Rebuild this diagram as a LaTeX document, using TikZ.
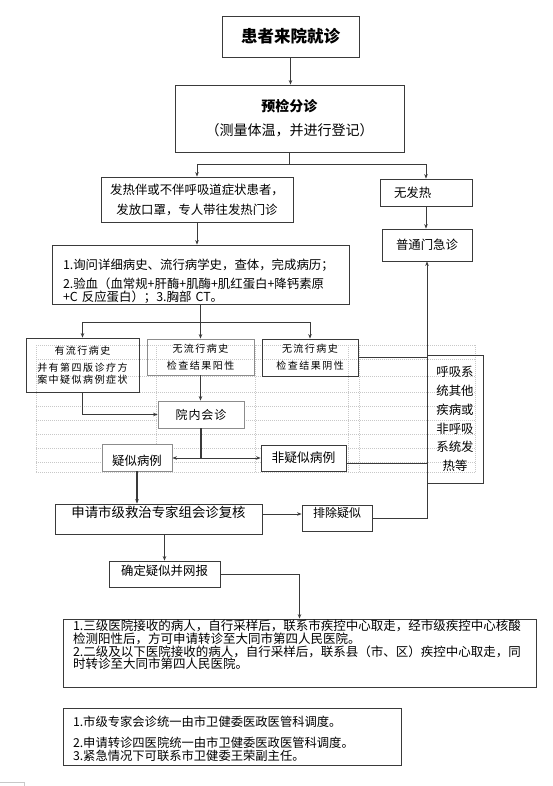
\documentclass[tikz,border=0pt]{standalone}
\usepackage{fontspec}
\setmainfont{Noto Sans CJK SC}
\newfontfamily\spacedcjk[LetterSpace=15]{Noto Sans CJK SC}
\newfontfamily\widecjk[LetterSpace=8]{Noto Sans CJK SC}
\usetikzlibrary{arrows.meta}
\definecolor{LineGray}{HTML}{3A3A3A}
\definecolor{SoftGray}{HTML}{8C8C8C}
\definecolor{GridGray}{HTML}{C8C8C8}
\lineskiplimit=-100pt

\begin{document}
\begin{tikzpicture}[x=1pt, y=-1pt, >={Stealth[length=4.5pt,width=3.5pt]},
  box/.style={draw=LineGray, line width=0.8pt, inner sep=0pt, font=\fontsize{12.4}{20}\selectfont},
  lightbox/.style={box, draw=SoftGray},
  link/.style={draw=LineGray, line width=0.8pt},
  boldlink/.style={link, line width=1.6pt},
  gridline/.style={draw=GridGray, line width=0.4pt, dash pattern=on 1pt off 1pt}]
\useasboundingbox (0,0) rectangle (553,786);
\fill[white] (0,0) rectangle (553,786);

% Table grid behind the middle part
\foreach \gy in {345,359,376,392,406,420,434,448,462,472}
  \draw[gridline] (36,\gy) -- (475,\gy);
\foreach \gx in {36,156,255,348,359,475}
  \draw[gridline] (\gx,345) -- (\gx,472);
\draw[draw=GridGray, line width=0.6pt] (0,782) -- (24,782) -- (24,786);

% Arrival and triage
\node[box, minimum width=137pt, minimum height=41pt, font=\fontsize{16.5}{20}\selectfont\bfseries] (visit) at (290.5,36.5) {患者来院就诊};
\node[box, minimum width=229pt, minimum height=67pt, align=center, font=\fontsize{14}{24}\selectfont] (triage) at (289.5,118.5) {\textbf{预检分诊}\\（测量体温，并进行登记）};

% Fever / no fever
\node[box, minimum width=192pt, minimum height=45pt, align=center] (fever) at (197,199.5) {发热伴或不伴呼吸道症状患者，\\发放口罩，专人带往发热门诊};
\node[box, minimum height=27pt, text width=64pt, inner xsep=14pt, align=left] (nofever) at (426,192.5) {无发热};
\node[box, minimum width=90pt, minimum height=32pt] (clinic) at (427,245) {普通门急诊};

% Examination
\node[box, minimum height=59pt, text width=275pt, inner xsep=11pt, align=left, font=\fontsize{12.4}{13}\selectfont] (exam) at (200.5,274.5) {\rule{0pt}{24.5pt}1.询问详细病史、流行病学史，查体，完成病历；\\[6pt]2.验血（血常规+肝酶+肌酶+肌红蛋白+降钙素原\\+C~反应蛋白）；3.胸部~CT。};

% Epidemiological history
\node[box, minimum width=113pt, minimum height=54pt, align=center, font=\fontsize{10}{12}\spacedcjk] (hist) at (82.5,365) {有流行病史\\[5pt]并有第四版诊疗方\\案中疑似病例症状};
\node[lightbox, minimum width=107pt, minimum height=36pt, align=center, font=\fontsize{10}{17}\spacedcjk] (neg) at (200.5,357) {无流行病史\\检查结果阳性};
\node[box, minimum width=96pt, minimum height=37pt, align=center, font=\fontsize{10}{17}\spacedcjk] (pos) at (310,357.5) {无流行病史\\检查结果阴性};

% Consultation
\node[lightbox, fill=white, minimum width=86pt, minimum height=27pt, font=\fontsize{12}{14}\widecjk] (consult) at (201,414.5) {院内会诊};
\node[lightbox, fill=white, minimum width=70pt, text height=21.7pt, text depth=5.3pt] (susp) at (137,457.5) {疑似病例};
\node[box, fill=white, minimum width=85pt, minimum height=26pt, font=\fontsize{12.8}{14}\selectfont] (nonsusp) at (303.5,458) {非疑似病例};
\node[box, minimum width=56pt, minimum height=128pt, align=center, font=\fontsize{12.4}{18.8}\selectfont] (other) at (455,419) {呼吸系\\统其他\\疾病或\\非呼吸\\系统发\\热等};

% Expert review
\node[box, minimum width=207pt, text height=13.1pt, text depth=16.9pt, font=\fontsize{13.4}{16}\selectfont] (review) at (158.5,519) {申请市级救治专家组会诊复核};
\node[box, minimum width=70pt, text height=12.6pt, text depth=13.4pt, font=\fontsize{12}{14}\selectfont] (excl) at (337,518) {排除疑似};
\node[box, minimum width=111pt, text height=14.7pt, text depth=11.3pt] (confirm) at (164.5,574) {确定疑似并网报};

% Transfer and notes
\node[box, text width=453pt, inner xsep=10pt, align=left, font=\fontsize{12.5}{12.67}\selectfont] (transfer) at (299.5,653) {\rule{0pt}{11.7pt}1.三级医院接收的病人，自行采样后，联系市疾控中心取走，经市级疾控中心核酸\\检测阳性后，方可申请转诊至大同市第四人民医院。\\2.二级及以下医院接收的病人，自行采样后，联系县（市、区）疾控中心取走，同\\时转诊至大同市第四人民医院。\rule[-18.25pt]{0pt}{0pt}};
\node[box, text width=318pt, inner xsep=10pt, align=left, font=\fontsize{12.3}{11}\selectfont] (notes) at (232,737) {\rule{0pt}{17.7pt}1.市级专家会诊统一由市卫健委医政医管科调度。\\[9pt]2.申请转诊四医院统一由市卫健委医政医管科调度。\\3.紧急情况下可联系市卫健委王荣副主任。\rule[-5.3pt]{0pt}{0pt}};

% Arrows: top part
\draw[link, ->] (visit.south) -- (visit.south |- triage.north);
\coordinate (split1) at (289.5,164);
\draw[link] (triage.south) -- (split1);
\draw[link, ->] (split1) -| (fever.north);
\draw[link, ->] (split1) -| (nofever.north);
\draw[link, ->] (nofever.south) -- (nofever.south |- clinic.north);
\draw[link, ->] (fever.south) -- (fever.south |- exam.north);

% Arrows: examination results
\coordinate (split2) at (200.5,322);
\draw[boldlink] (exam.south) -- (split2);
\draw[link, ->] (split2) -| (hist.north);
\draw[link, ->] (split2) -- (neg.north);
\draw[link, ->] (split2) -| (pos.north);
\draw[link, ->] (neg.south) -- (neg.south |- consult.north);
\draw[link, ->] (hist.south) |- (consult.west);

% Arrows: consultation outcome
\coordinate (split3) at (201,458);
\draw[boldlink] (consult.south) -- (split3);
\draw[link, ->] (split3) -- (split3 -| susp.east);
\draw[link, ->] (split3) -- (split3 -| nonsusp.west);
\draw[link] (pos.east) -- (pos.east -| other.west);
\draw[link] ([yshift=-5pt]nonsusp.east) -- ([yshift=-5pt]nonsusp.east -| other.west);

% Arrows: review
\draw[boldlink, ->] (susp.south) -- (susp.south |- review.north);
\draw[link, ->] ([yshift=5pt]review.east) -- ([yshift=5pt]review.east -| excl.west);
\draw[link, ->] (excl.east) -| (clinic.south);
\draw[link, ->] (confirm.north |- review.south) -- (confirm.north);
\draw[link, ->] (confirm.east) -| (transfer.north);

\end{tikzpicture}
\end{document}
